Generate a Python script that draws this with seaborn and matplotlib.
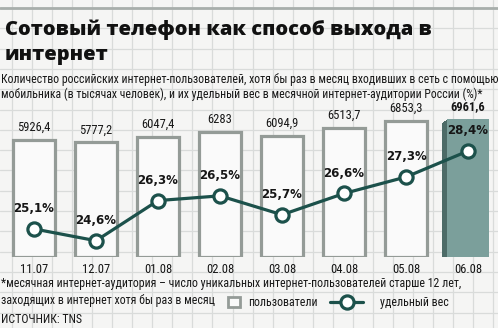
import os
import numpy as np
import pandas as pd
import matplotlib
matplotlib.use("Agg")
import matplotlib.pyplot as plt
import matplotlib.patheffects as pe
from matplotlib import font_manager as fm
from matplotlib.patches import Patch
from matplotlib.lines import Line2D
import seaborn as sns

# ---- data ----
months = ["11.07", "12.07", "01.08", "02.08", "03.08", "04.08", "05.08", "06.08"]
users = [5926.4, 5777.2, 6047.4, 6283, 6094.9, 6513.7, 6853.3, 6961.6]
user_labels = ["5926,4", "5777,2", "6047,4", "6283", "6094,9", "6513,7", "6853,3", "6961,6"]
share = [25.1, 24.6, 26.3, 26.5, 25.7, 26.6, 27.3, 28.4]
share_labels = ["25,1%", "24,6%", "26,3%", "26,5%", "25,7%", "26,6%", "27,3%", "28,4%"]

title_lines = ["Сотовый телефон как способ выхода в", "интернет"]
subtitle_lines = [
    "Количество российских интернет-пользователей, хотя бы раз в месяц входивших в сеть с помощью",
    "мобильника (в тысячах человек), и их удельный вес в месячной интернет-аудитории России (%)*",
]
foot_lines = [
    "*месячная интернет-аудитория – число уникальных интернет-пользователей старше 12 лет,",
    "заходящих в интернет хотя бы раз в месяц",
]
source = "ИСТОЧНИК: TNS"
legend_labels = ["пользователи", "удельный вес"]

# ---- style ----
sns.set_theme(style="white")
plt.rcParams["font.family"] = ["DejaVu Sans"]
W, H = 498, 328
BAR_EDGE = "#949b97"
BAR_FACE = "#fafafa"
LAST_FACE = "#7b9f9b"
SHADOW = "#4d6b67"
LINE = "#1c514b"
TXT = "#161616"


def find_font(prefs, bad, fallback_family, fallback_weight="normal"):
    found = {}
    for f in fm.fontManager.ttflist:
        fn = os.path.basename(f.fname).lower().replace("-", "").replace(" ", "").replace("_", "")
        if any(b in fn for b in bad):
            continue
        for p in prefs:
            if fn.startswith(p) and p not in found:
                found[p] = f.fname
    for p in prefs:
        if p in found:
            return fm.FontProperties(fname=found[p])
    return fm.FontProperties(family=fallback_family, weight=fallback_weight)


NARROW = find_font(
    ["robotocondensedregular", "robotocondensed", "liberationsansnarrowregular",
     "liberationsansnarrow", "opensanscondensed", "dejavusanscondensed."],
    ["bold", "italic", "oblique", "light", "thin", "black", "medium", "semi",
     "extra", "heavy"],
    "DejaVu Sans")
NARROW_B = find_font(
    ["robotocondensedbold", "liberationsansnarrowbold", "dejavusanscondensedbold"],
    ["italic", "oblique", "semi", "extra"],
    "DejaVu Sans", "bold")
TITLE_FP = find_font(
    ["opensansextrabold", "latoblack", "latoheavy", "interblack", "robotoblack",
     "opensansbold", "latobold", "dejavusansbold."],
    ["italic", "oblique", "condensed", "semi"],
    "DejaVu Sans", "bold")

fig = plt.figure(figsize=(W / 100, H / 100), dpi=100)
renderer = fig.canvas.get_renderer()


def fx(x):
    return x / W


def fy(y):
    return 1 - y / H


def fitted_size(s, target_w, fp, size0=10.0):
    t = fig.text(0, 0, s, fontproperties=fp, fontsize=size0)
    w = t.get_window_extent(renderer).width
    t.remove()
    return size0 * target_w / w


# background graph paper
bg = fig.add_axes([0, 0, 1, 1], zorder=-5)
bg.set_xlim(0, W)
bg.set_ylim(H, 0)
bg.set_facecolor("#f5f5f4")
bg.set_xticks(np.arange(12, W, 20.05))
bg.set_yticks(np.arange(8, H, 20.3))
bg.grid(True, color="#d9dbda", lw=0.9)
bg.tick_params(length=0, labelbottom=False, labelleft=False)
for s in bg.spines.values():
    s.set_visible(False)
bg.axhline(7.5, color="#a8aeab", lw=2.0)

# main axes
ax = fig.add_axes([fx(3), fy(257), fx(496), 157 / H])
ax.patch.set_visible(False)
df = pd.DataFrame({"month": months, "users": users})
colors = [BAR_FACE] * (len(months) - 1) + [LAST_FACE]
sns.barplot(data=df, x="month", y="users", hue="month", palette=colors,
            legend=False, width=0.69, ax=ax, saturation=1)
for i, p in enumerate(ax.patches):
    if i < len(months) - 1:
        p.set_edgecolor(BAR_EDGE)
        p.set_linewidth(2.3)
    else:
        p.set_edgecolor(LAST_FACE)
        p.set_linewidth(0)
        p.set_path_effects(
            [pe.SimplePatchShadow(offset=(-k * 0.6, -k * 0.6), shadow_rgbFace=SHADOW, alpha=1)
             for k in range(1, 6)] + [pe.Normal()])
ax.set_xlim(-0.5, len(months) - 0.5)
ax.set_ylim(0, 7920)
ax.set_xlabel("")
ax.set_ylabel("")
ax.set_yticks([])
ax.tick_params(axis="x", length=0, pad=4, labelcolor=TXT)
for lab in ax.get_xticklabels():
    lab.set_fontproperties(NARROW)
    lab.set_fontsize(9)
for s in ax.spines.values():
    s.set_visible(False)

for i, (v, lab) in enumerate(zip(users, user_labels)):
    last = i == len(users) - 1
    ax.annotate(lab, xy=(i, v), xytext=(0, 9), textcoords="offset points",
                ha="center", va="center", fontproperties=NARROW_B if last else NARROW,
                fontsize=9, color=TXT)

ax2 = ax.twinx()
ax2.patch.set_visible(False)
sns.lineplot(x=np.arange(len(months)), y=share, ax=ax2, color=LINE, lw=2.3,
             marker="o", markersize=9.5, markerfacecolor="white",
             markeredgecolor=LINE, markeredgewidth=2.3)
ax2.set_xlim(-0.5, len(months) - 0.5)
ax2.set_ylim(23.91, 30.56)
ax2.set_yticks([])
ax2.set_ylabel("")
for s in ax2.spines.values():
    s.set_visible(False)
for i, (v, lab) in enumerate(zip(share, share_labels)):
    ax2.annotate(lab, xy=(i, v), xytext=(0, 14.5), textcoords="offset points",
                 ha="center", va="center", fontsize=8.5, fontweight="bold", color=TXT)

# texts
tsize = fitted_size(title_lines[0], 425, TITLE_FP)
fig.text(fx(5), fy(35), title_lines[0], fontproperties=TITLE_FP, fontsize=tsize,
         color="#111111", va="baseline")
fig.text(fx(5), fy(60), title_lines[1], fontproperties=TITLE_FP, fontsize=tsize,
         color="#111111", va="baseline")

ssize = fitted_size(subtitle_lines[0], 491, NARROW)
fig.text(fx(1), fy(83), subtitle_lines[0], fontproperties=NARROW, fontsize=ssize,
         color=TXT, va="baseline")
fig.text(fx(1), fy(98), subtitle_lines[1], fontproperties=NARROW, fontsize=ssize,
         color=TXT, va="baseline")
fsize = fitted_size(foot_lines[0], 458, NARROW)
fig.text(fx(1), fy(287), foot_lines[0], fontproperties=NARROW, fontsize=fsize,
         color=TXT, va="baseline")
fig.text(fx(1), fy(304), foot_lines[1], fontproperties=NARROW, fontsize=fsize,
         color=TXT, va="baseline")
fig.text(fx(1), fy(323), source, fontproperties=NARROW, fontsize=fsize,
         color=TXT, va="baseline")

# legend
lp = NARROW.copy()
lp.set_size(fsize)
em = fsize * 100 / 72  # px per em
h1 = Patch(facecolor=BAR_FACE, edgecolor=BAR_EDGE, linewidth=2.0)
h2 = Line2D([0], [0], color=LINE, lw=2.3, marker="o", markersize=9.5,
            markerfacecolor="white", markeredgecolor=LINE, markeredgewidth=2.3)
leg1 = fig.legend([h1], [legend_labels[0]], loc="center left",
                  bbox_to_anchor=(fx(228 - 0.8 * em), fy(302.5)), frameon=False,
                  borderpad=0.4, borderaxespad=0.4,
                  handlelength=12 / em, handleheight=12 / em, handletextpad=8 / em,
                  prop=lp)
leg2 = fig.legend([h2], [legend_labels[1]], loc="center left",
                  bbox_to_anchor=(fx(330 - 0.8 * em), fy(302.5)), frameon=False,
                  borderpad=0.4, borderaxespad=0.4,
                  handlelength=33 / em, handletextpad=17 / em,
                  prop=lp)
for t in leg1.get_texts() + leg2.get_texts():
    t.set_color(TXT)

fig.savefig("out.png", dpi=100)
